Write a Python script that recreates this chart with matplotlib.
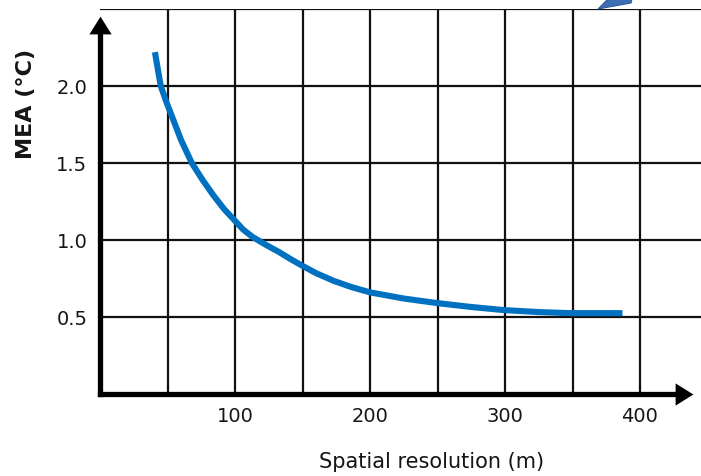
import matplotlib
matplotlib.use('Agg')
import matplotlib.pyplot as plt
from matplotlib.patches import Polygon

# error vs. spatial resolution
resolution = [40.7, 43, 45, 49, 53, 60, 68, 76, 84, 92, 100, 106, 113, 123, 133, 141, 150,
              160, 173, 186, 200, 225, 250, 275, 299, 325, 348, 370, 387]
mea = [2.22, 2.1, 2.0, 1.9, 1.81, 1.65, 1.5, 1.39, 1.29, 1.2, 1.125, 1.068, 1.02, 0.968, 0.92,
       0.877, 0.832, 0.785, 0.735, 0.695, 0.66, 0.62, 0.59, 0.565, 0.545, 0.532, 0.525, 0.525, 0.525]

x_ticks = [100, 200, 300, 400]
y_ticks = [0.5, 1.0, 1.5, 2.0]
x_grid = [50, 100, 150, 200, 250, 300, 350, 400]
y_grid = [0.5, 1.0, 1.5, 2.0, 2.5]

plt.rcParams['font.family'] = ['DejaVu Sans']
ink = '#151515'

fig = plt.figure(figsize=(7.01, 4.77), dpi=100)
ax = fig.add_axes([100 / 701, 82 / 477, 601 / 701, 385 / 477])
ax.set_xlim(0, 601 / 1.35)
ax.set_ylim(0, 2.5)

for gx in x_grid:
    ax.axvline(gx, color='#111111', lw=1.6, zorder=1)
for gy in y_grid:
    ax.axhline(gy, color='#111111', lw=1.6, zorder=1)

ax.plot(resolution, mea, color='#0070C0', lw=4.4, solid_capstyle='butt',
        solid_joinstyle='round', zorder=3)

for s in ax.spines.values():
    s.set_visible(False)

# axes drawn as thick lines with triangular heads
y_top, x_end = 2.395, 432.5
ax.plot([0, 0], [0, y_top], color='black', lw=3.8, solid_capstyle='projecting',
        clip_on=False, zorder=4)
ax.plot([0, x_end], [0, 0], color='black', lw=3.8, solid_capstyle='projecting',
        clip_on=False, zorder=4)
ax.plot([0], [y_top], marker=[(-10, -8), (10, -8), (0, 8)], markersize=16,
        color='black', mew=0, clip_on=False, zorder=5)
ax.plot([x_end], [0], marker=[(-8, -10), (-8, 10), (8, 0)], markersize=16,
        color='black', mew=0, clip_on=False, zorder=5)

ax.set_xticks(x_ticks)
ax.set_xticklabels([str(v) for v in x_ticks])
ax.set_yticks(y_ticks)
ax.set_yticklabels(['%.1f' % v for v in y_ticks])
ax.tick_params(length=0, labelsize=14, pad=9, colors=ink)

fig.text(432 / 701, 1 - 462 / 477, 'Spatial resolution (m)', ha='center', va='center',
         fontsize=15, color=ink)
fig.text(26 / 701, 1 - 104 / 477, 'MEA (\u00b0C)', ha='center', va='center',
         rotation=90, fontsize=16, fontweight='bold', color=ink)

# corner of a pointer arrow at the top edge
fig.patches.append(Polygon([(598 / 701, 1 - 10 / 477), (608 / 701, 1.0), (632 / 701, 1.0),
                            (631 / 701, 1 - 4 / 477)], closed=True, transform=fig.transFigure,
                           facecolor='#3C6EB4', edgecolor='#2F5A96', lw=0.8))

fig.savefig('out.png', dpi=100)
